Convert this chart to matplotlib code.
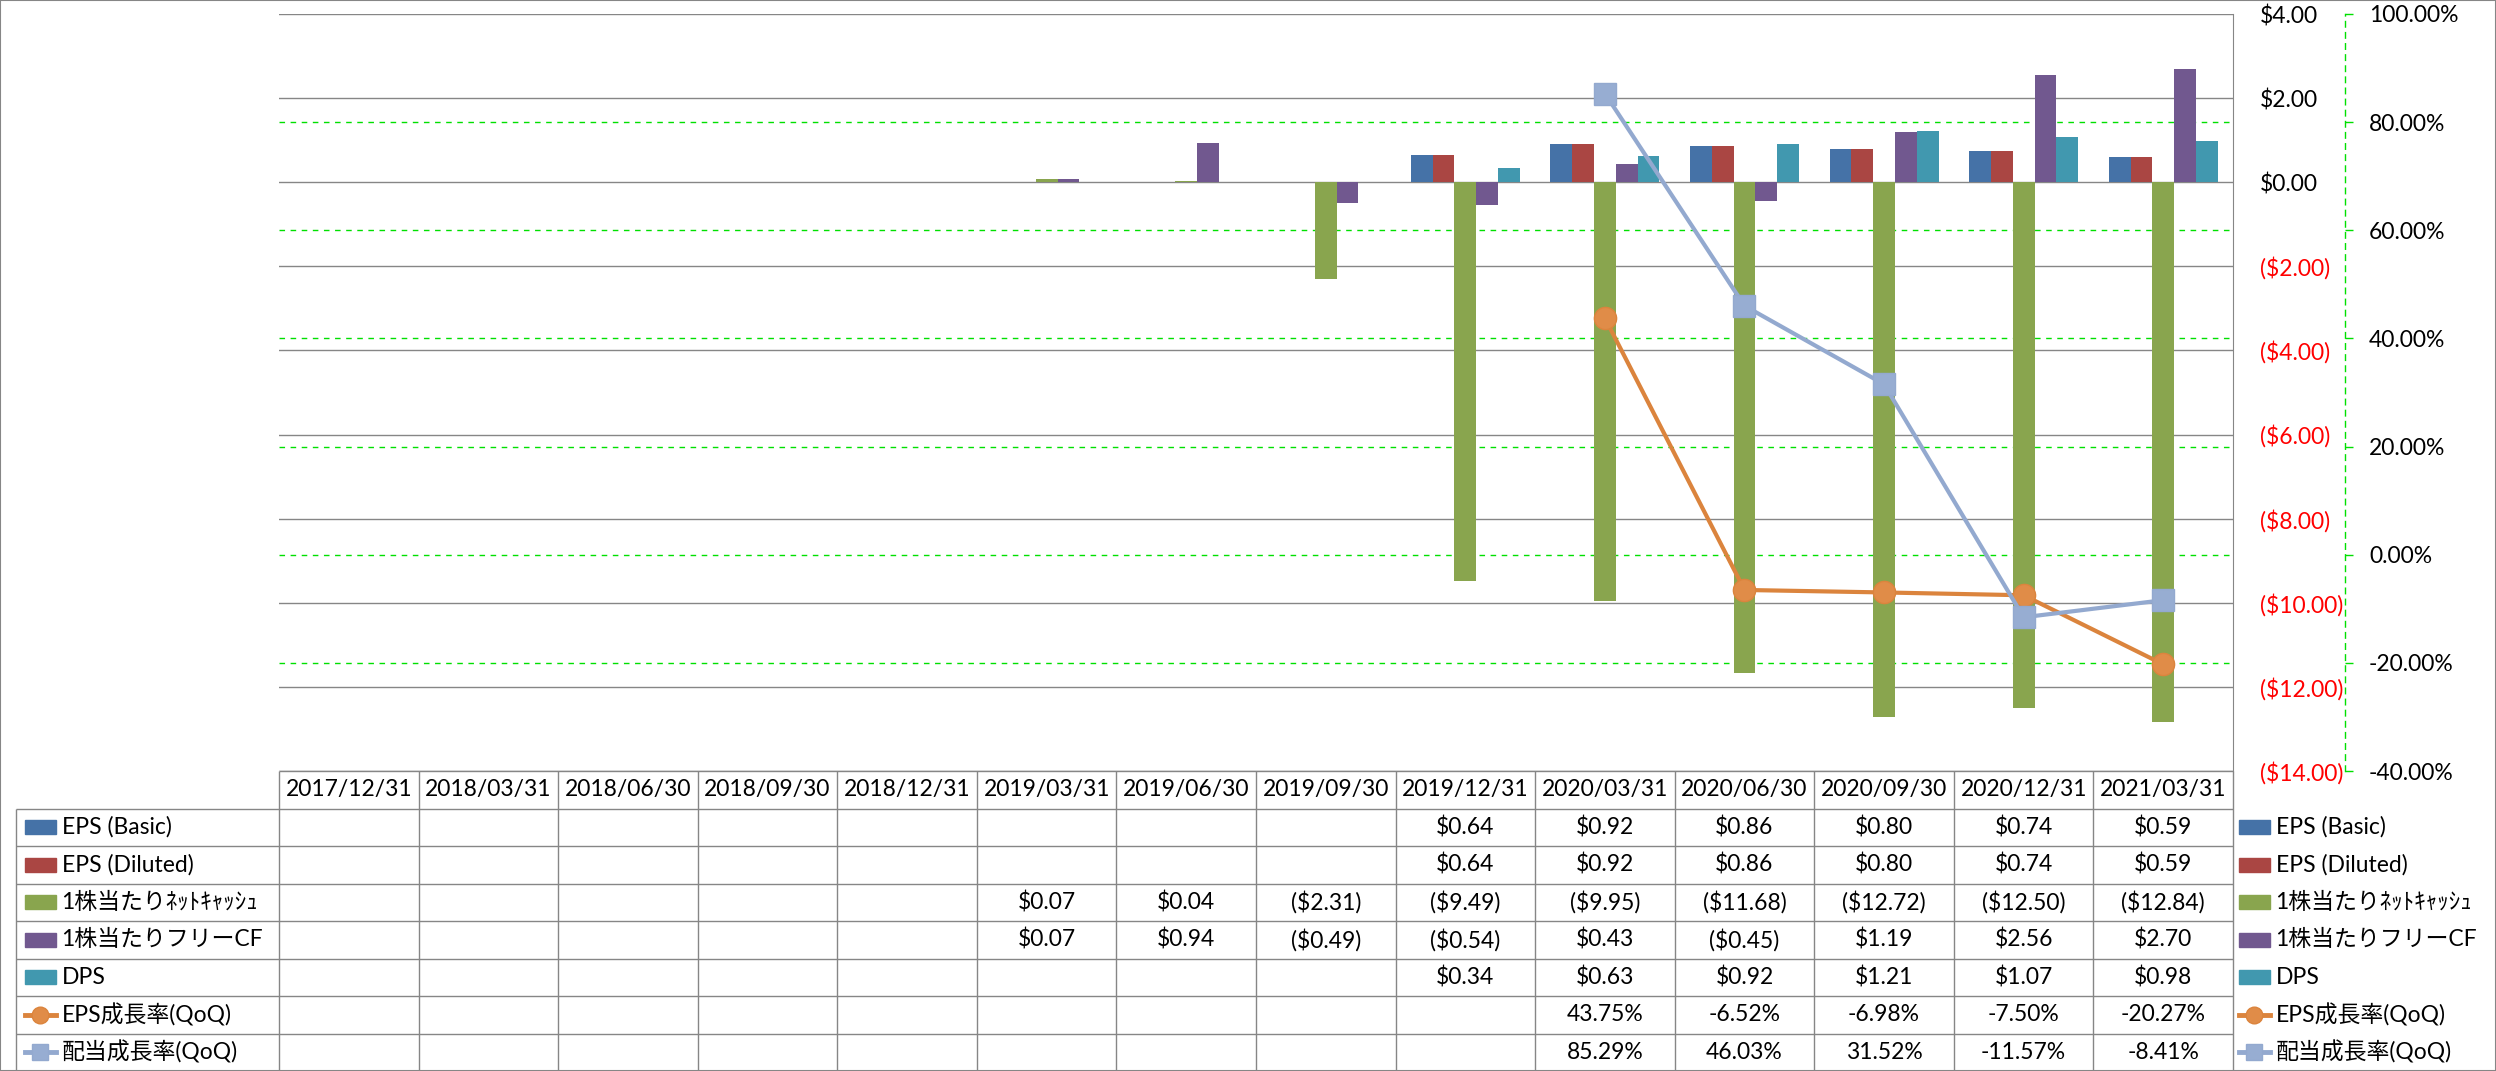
import numpy as np
import matplotlib
matplotlib.use('Agg')
import matplotlib.pyplot as plt
from matplotlib.patches import Rectangle
from matplotlib.transforms import blended_transform_factory

plt.rcParams['font.family'] = ['Lato', 'Noto Sans CJK JP']
plt.rcParams['text.parse_math'] = False

nan = np.nan
dates = ['2017/12/31', '2018/03/31', '2018/06/30', '2018/09/30', '2018/12/31',
         '2019/03/31', '2019/06/30', '2019/09/30', '2019/12/31', '2020/03/31',
         '2020/06/30', '2020/09/30', '2020/12/31', '2021/03/31']

eps_basic = [nan, nan, nan, nan, nan, nan, nan, nan, 0.64, 0.92, 0.86, 0.80, 0.74, 0.59]
eps_diluted = [nan, nan, nan, nan, nan, nan, nan, nan, 0.64, 0.92, 0.86, 0.80, 0.74, 0.59]
net_cash = [nan, nan, nan, nan, nan, 0.07, 0.04, -2.31, -9.49, -9.95, -11.68, -12.72, -12.50, -12.84]
free_cf = [nan, nan, nan, nan, nan, 0.07, 0.94, -0.49, -0.54, 0.43, -0.45, 1.19, 2.56, 2.70]
dps = [nan, nan, nan, nan, nan, nan, nan, nan, 0.34, 0.63, 0.92, 1.21, 1.07, 0.98]
eps_growth = [nan, nan, nan, nan, nan, nan, nan, nan, nan, 43.75, -6.52, -6.98, -7.50, -20.27]
div_growth = [nan, nan, nan, nan, nan, nan, nan, nan, nan, 85.29, 46.03, 31.52, -11.57, -8.41]

names = ['EPS (Basic)', 'EPS (Diluted)', '1株当たりﾈｯﾄｷｬｯｼｭ', '1株当たりフリーCF', 'DPS',
         'EPS成長率(QoQ)', '配当成長率(QoQ)']
bar_series = [eps_basic, eps_diluted, net_cash, free_cf, dps]
line_series = [eps_growth, div_growth]
bar_colors = ['#4572A7', '#AA4643', '#89A54E', '#71588F', '#4198AF']
line_colors = ['#DB843D', '#93A9CF']
line_fill = ['#E08C48', '#97ADD2']
line_markers = ['o', 's']

GRID = '#868686'
GREEN = '#00E000'
FS = 16.5


def money(v):
    return f'${v:.2f}' if v >= 0 else f'(${-v:.2f})'


def pct(v):
    return f'{v:.2f}%'


W, H = 2496, 1071


def box(l, t, r, b):
    return [l / W, 1 - b / H, (r - l) / W, (b - t) / H]


fig = plt.figure(figsize=(W / 100, H / 100), dpi=100)
ax = fig.add_axes(box(279, 14, 2233, 771))
tab = fig.add_axes(box(279, 771, 2233, 1071))

x = np.arange(len(dates))
bw = 0.156
for i, (vals, c) in enumerate(zip(bar_series, bar_colors)):
    ax.bar(x + (i - 2) * bw, vals, width=bw, color=c, zorder=3)

ax.set_xlim(-0.5, len(dates) - 0.5)
ax.set_ylim(-14, 4)
ax.set_xticks([])

# secondary axis for growth rates
ax2 = ax.twinx()
ax2.set_ylim(-40, 100)
pt = np.arange(-40, 101, 20)
ax2.set_yticks(pt, labels=[pct(v) for v in pt])
for lab, v in zip(ax2.get_yticklabels(), pt):
    lab.set_color('red' if v < 0 else 'black')
ax2.tick_params(axis='y', length=6, width=1, color=GREEN, pad=11.3, labelsize=FS)
for s in ['top', 'left', 'bottom']:
    ax2.spines[s].set_visible(False)
ax2.spines['right'].set_position(('outward', 80.6))
ax2.spines['right'].set_color(GREEN)
ax2.spines['right'].set_linestyle((0, (4, 4)))
ax2.spines['right'].set_linewidth(1)

# primary $ axis labels on the right
yt = np.arange(-14, 5, 2)
ax.yaxis.tick_right()
ax.set_yticks(yt, labels=[money(v) for v in yt])
for lab, v in zip(ax.get_yticklabels(), yt):
    lab.set_color('red' if v < 0 else 'black')
ax.tick_params(axis='y', length=0, pad=19.4, labelsize=FS)
ax.yaxis.grid(True, color=GRID, lw=1)
ax.set_axisbelow(True)
for s in ['top', 'left', 'bottom']:
    ax.spines[s].set_visible(False)
ax.spines['right'].set_color(GRID)

# green dashed grid of the % axis, kept behind the bars
trans = blended_transform_factory(ax.transAxes, ax2.transData)
ax.hlines(pt[1:-1], 0, 1, transform=trans, colors=GREEN, linestyles=(0, (4, 4)), lw=1, zorder=1)

for vals, c, fc, m in zip(line_series, line_colors, line_fill, line_markers):
    ax2.plot(x, vals, color=c, lw=3.0, marker=m, ms=16, mfc=fc, mec=c, zorder=3)

# data table
tab.set_xlim(-0.5, len(dates) - 0.5)
tab.set_ylim(8, 0)
tab.axis('off')
lx = -0.5 - 263 / 139.57
tab.hlines(range(1, 9), lx, 13.5, colors=GRID, lw=1, clip_on=False)
tab.hlines(0, -0.5, 13.5, colors=GRID, lw=1, clip_on=False)
tab.vlines(np.arange(-0.5, 14), 0, 8, colors=GRID, lw=1, clip_on=False)
tab.vlines(lx, 1, 8, colors=GRID, lw=1, clip_on=False)

for i, d in enumerate(dates):
    tab.text(i, 0.5, d, ha='center', va='center', fontsize=FS)

fmts = [money] * 5 + [pct] * 2
for r, (vals, f) in enumerate(zip(bar_series + line_series, fmts)):
    for i, v in enumerate(vals):
        if not np.isnan(v):
            tab.text(i, r + 1.5, f(v), ha='center', va='center', fontsize=FS)


def key(xl, k):
    yc = k + 1.5
    sw = 0.222
    if k < 5:
        tab.add_patch(Rectangle((xl, yc - 0.19), sw, 0.38, color=bar_colors[k], clip_on=False))
    else:
        j = k - 5
        tab.plot([xl, xl + sw], [yc, yc], color=line_colors[j], lw=3.5, clip_on=False)
        tab.plot([xl + sw / 2], [yc], marker=line_markers[j], ms=12, color=line_colors[j],
                 mfc=line_fill[j], clip_on=False)
    tab.text(xl + 0.262, yc, names[k], va='center', fontsize=FS, clip_on=False)


for k in range(len(names)):
    key(lx + 9 / 139.57, k)
    key(13.5 + 6 / 139.57, k)

fig.add_artist(Rectangle((0, 0), 1, 1, transform=fig.transFigure, fill=False,
                         edgecolor=GRID, lw=1.5))

fig.savefig('out.png', dpi=100)
